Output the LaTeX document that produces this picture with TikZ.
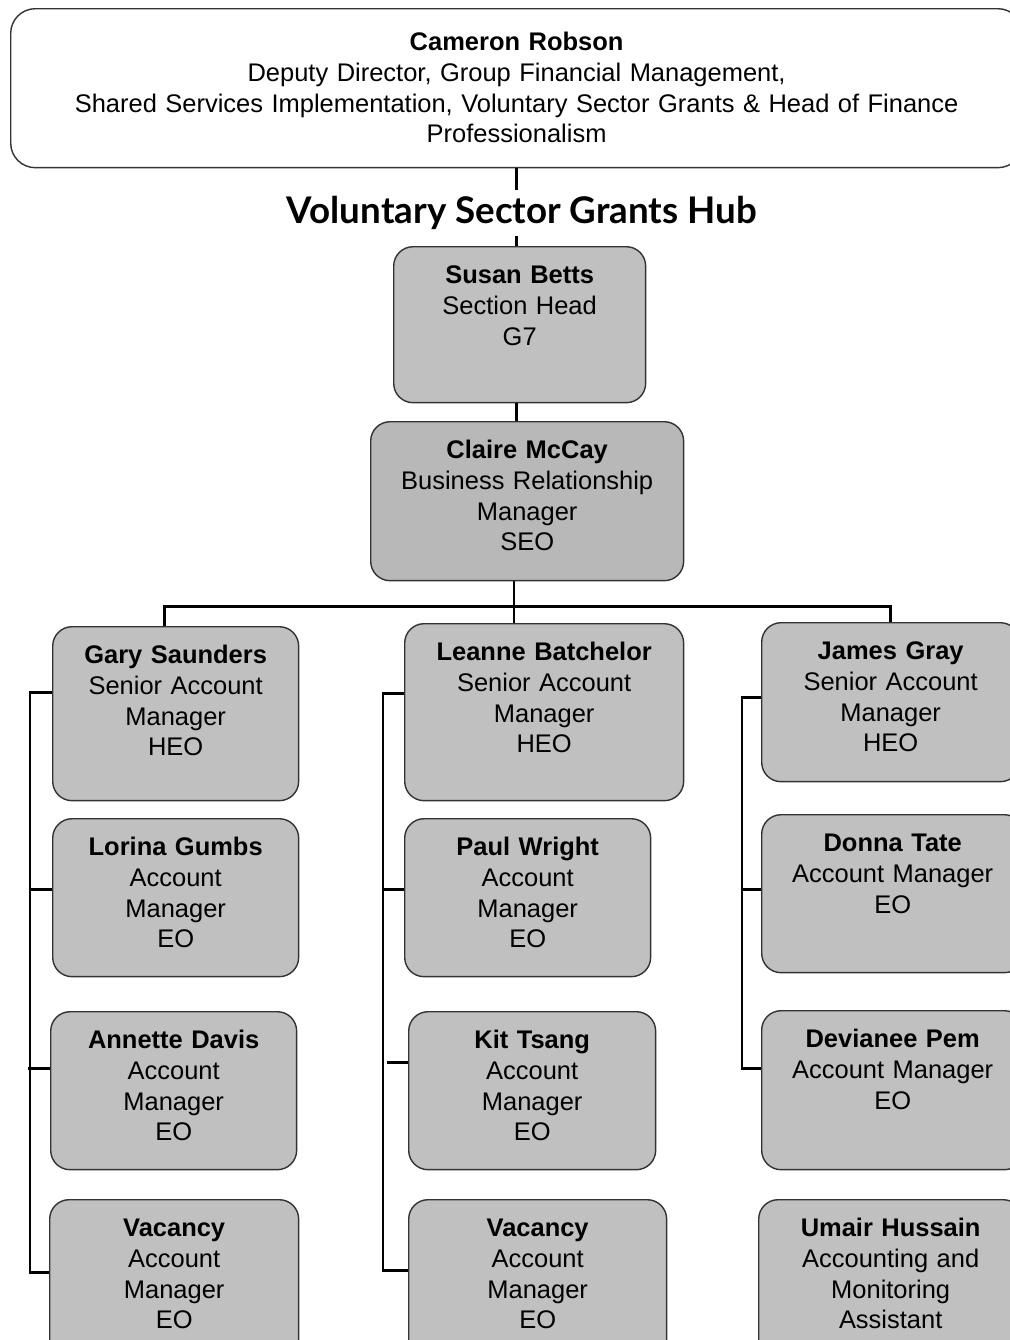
\documentclass[tikz,border=0pt]{standalone}
\usepackage{fontspec}
\setmainfont{Liberation Sans}
\newfontfamily\hubfont{Lato}
\usetikzlibrary{positioning}
\definecolor{boxgray}{HTML}{C0C0C0}
\definecolor{darkgray}{HTML}{B8B8B8}
\tikzset{
  staff/.style={draw=black!80, line width=0.8pt, fill=boxgray, rounded corners=11pt, anchor=north west, align=center, inner sep=0pt, text height=0.74cm, font=\fontsize{14.5}{17.5}\selectfont},
  link/.style={line width=1.7pt}
}

\begin{document}
\begin{tikzpicture}[x=0.02cm, y=-0.02cm]
				\useasboundingbox (0,0) rectangle (1010,1340);
				\clip (0,0) rectangle (1010,1340);
				\node[staff, fill=white, rounded corners=14pt, text width=20.24cm, text height=0.84cm, text depth=2.34cm] (cr) at (10,8) {\textbf{Cameron Robson}\\Deputy Director, Group Financial Management,\\Shared Services Implementation, Voluntary Sector Grants \& Head of Finance\\Professionalism};
				\node (hub) at (522,213) {\hubfont\fontsize{20.9}{24}\selectfont\bfseries Voluntary Sector Grants Hub};
				\node[staff, text width=5.04cm, text depth=2.38cm] (sb) at (393,246) {\textbf{Susan Betts}\\Section Head\\G7};
				\node[staff, fill=darkgray, text width=6.26cm, text depth=2.44cm] (cm) at (370,421) {\textbf{Claire McCay}\\Business Relationship\\Manager\\SEO};
				% left column
				\node[staff, text width=4.92cm, text depth=2.74cm] (gs) at (52,626) {\textbf{Gary Saunders}\\Senior Account\\Manager\\HEO};
				\node[staff, text width=4.92cm, text depth=2.42cm] (lg) at (52,818) {\textbf{Lorina Gumbs}\\Account\\Manager\\EO};
				\node[staff, text width=4.92cm, text depth=2.42cm] (ad) at (50,1011) {\textbf{Annette Davis}\\Account\\Manager\\EO};
				\node[staff, text width=4.98cm, text depth=2.46cm] (va) at (49,1199) {\textbf{Vacancy}\\Account\\Manager\\EO};
				% middle column
				\node[staff, text width=5.58cm, text depth=2.80cm] (lb) at (404,623) {\textbf{Leanne Batchelor}\\Senior Account\\Manager\\HEO};
				\node[staff, text width=4.92cm, text depth=2.42cm] (pw) at (404,818) {\textbf{Paul Wright}\\Account\\Manager\\EO};
				\node[staff, text width=4.94cm, text depth=2.42cm] (kt) at (408,1011) {\textbf{Kit Tsang}\\Account\\Manager\\EO};
				\node[staff, text width=5.16cm, text depth=2.46cm] (vb) at (408,1199) {\textbf{Vacancy}\\Account\\Manager\\EO};
				% right column
				\node[staff, text width=5.16cm, text depth=2.44cm] (jg) at (761,622) {\textbf{James Gray}\\Senior Account\\Manager\\HEO};
				\node[staff, text width=5.24cm, text depth=2.42cm] (dt) at (761,814) {\textbf{Donna Tate}\\Account Manager\\EO};
				\node[staff, text width=5.24cm, text depth=2.44cm] (dp) at (761,1010) {\textbf{Devianee Pem}\\Account Manager\\EO};
				\node[staff, text width=5.28cm, text depth=2.46cm] (uh) at (758,1199) {\textbf{Umair Hussain}\\Accounting and\\Monitoring\\Assistant};
				\coordinate (bus) at (514,606);
				% top of the tree
				\draw[link] (cr.south) -- (cr.south |- hub.north);
				\draw[link] (hub.south -| cr.south) -- (sb.north -| cr.south);
				\draw[link] (sb.south -| cr.south) -- (cm.north -| cr.south);
				\draw[link] (cm.south -| bus) -- (lb.north -| bus);
				\draw[link] ([xshift=-0.22cm]gs.north) |- (bus) -| (jg.north);
				% side links
				\draw[link] ([yshift=0.42cm]gs.west) -- ++(-22,0) |- ([yshift=0.14cm]va.west);
				\draw[link] ([yshift=0.16cm]lg.west) -- ++(-22,0);
				\draw[link] ([yshift=0.44cm]ad.west) -- ++(-22,0);
				\draw[link] ([yshift=0.37cm]lb.west) -- ++(-21,0) |- ([yshift=0.18cm]vb.west);
				\draw[link] ([yshift=0.16cm]pw.west) -- ++(-21,0);
				\draw[link] ([yshift=0.56cm]kt.west) -- ++(-21,0);
				\draw[link] ([yshift=0.09cm]jg.west) -- ++(-19,0) |- ([yshift=0.43cm]dp.west);
				\draw[link] ([yshift=0.08cm]dt.west) -- ++(-19,0);
			\end{tikzpicture}
\end{document}
